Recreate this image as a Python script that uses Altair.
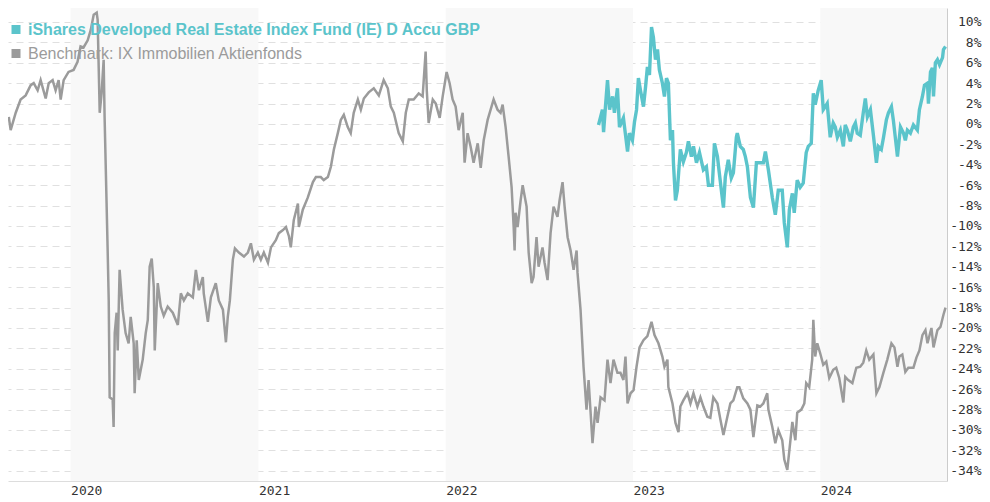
import altair as alt
import pandas as pd

FUND_NAME = "iShares Developed Real Estate Index Fund (IE) D Accu GBP"
BENCH_NAME = "Benchmark: IX Immobilien Aktienfonds"
FUND_COLOR = "#5bc4cb"
BENCH_COLOR = "#9b9b9b"

# decimal-year time stamps and cumulative performance (%)
bench_t = [
    2019.670, 2019.680, 2019.707, 2019.733, 2019.760, 2019.787, 2019.803, 2019.824, 2019.840, 2019.867,
    2019.883, 2019.904, 2019.920, 2019.936, 2019.947, 2019.963, 2019.989, 2020.016, 2020.037, 2020.053,
    2020.069, 2020.091, 2020.107, 2020.123, 2020.139, 2020.144, 2020.155, 2020.165, 2020.176, 2020.181,
    2020.197, 2020.203, 2020.208, 2020.224, 2020.229, 2020.235, 2020.245, 2020.251, 2020.261, 2020.277,
    2020.293, 2020.309, 2020.320, 2020.336, 2020.341, 2020.352, 2020.363, 2020.384, 2020.400, 2020.411,
    2020.421, 2020.432, 2020.443, 2020.448, 2020.464, 2020.480, 2020.496, 2020.517, 2020.544, 2020.571,
    2020.587, 2020.603, 2020.624, 2020.651, 2020.667, 2020.683, 2020.704, 2020.709, 2020.731, 2020.747,
    2020.773, 2020.789, 2020.811, 2020.827, 2020.837, 2020.848, 2020.864, 2020.875, 2020.896, 2020.923,
    2020.944, 2020.960, 2020.976, 2020.997, 2021.013, 2021.029, 2021.051, 2021.067, 2021.093, 2021.109,
    2021.131, 2021.147, 2021.163, 2021.173, 2021.189, 2021.211, 2021.216, 2021.237, 2021.264, 2021.291,
    2021.307, 2021.333, 2021.349, 2021.371, 2021.387, 2021.403, 2021.424, 2021.440, 2021.456, 2021.477,
    2021.493, 2021.509, 2021.531, 2021.547, 2021.563, 2021.589, 2021.616, 2021.643, 2021.669, 2021.691,
    2021.707, 2021.723, 2021.749, 2021.771, 2021.787, 2021.803, 2021.829, 2021.856, 2021.877, 2021.893,
    2021.899, 2021.909, 2021.931, 2021.947, 2021.968, 2021.984, 2022.005, 2022.021, 2022.037, 2022.053,
    2022.069, 2022.091, 2022.101, 2022.117, 2022.133, 2022.149, 2022.171, 2022.187, 2022.203, 2022.224,
    2022.240, 2022.256, 2022.277, 2022.293, 2022.304, 2022.320, 2022.336, 2022.352, 2022.363, 2022.368,
    2022.373, 2022.384, 2022.400, 2022.411, 2022.432, 2022.443, 2022.459, 2022.469, 2022.485, 2022.496,
    2022.517, 2022.528, 2022.544, 2022.560, 2022.576, 2022.597, 2022.608, 2022.624, 2022.635, 2022.651,
    2022.667, 2022.683, 2022.699, 2022.704, 2022.720, 2022.736, 2022.752, 2022.763, 2022.784, 2022.800,
    2022.811, 2022.827, 2022.848, 2022.864, 2022.880, 2022.896, 2022.917, 2022.933, 2022.949, 2022.960,
    2022.971, 2022.987, 2023.003, 2023.019, 2023.035, 2023.056, 2023.077, 2023.099, 2023.115, 2023.136,
    2023.157, 2023.168, 2023.184, 2023.189, 2023.211, 2023.227, 2023.243, 2023.253, 2023.269, 2023.291,
    2023.307, 2023.323, 2023.344, 2023.360, 2023.376, 2023.397, 2023.413, 2023.429, 2023.451, 2023.467,
    2023.483, 2023.504, 2023.520, 2023.536, 2023.557, 2023.568, 2023.589, 2023.611, 2023.627, 2023.643,
    2023.664, 2023.680, 2023.696, 2023.717, 2023.723, 2023.744, 2023.760, 2023.776, 2023.797, 2023.808,
    2023.824, 2023.835, 2023.851, 2023.867, 2023.877, 2023.899, 2023.915, 2023.925, 2023.941, 2023.957,
    2023.963, 2023.973, 2023.984, 2024.000, 2024.016, 2024.032, 2024.048, 2024.069, 2024.085, 2024.101,
    2024.123, 2024.133, 2024.149, 2024.171, 2024.192, 2024.213, 2024.229, 2024.245, 2024.261, 2024.283,
    2024.299, 2024.315, 2024.336, 2024.357, 2024.379, 2024.395, 2024.411, 2024.421, 2024.437, 2024.453,
    2024.469, 2024.496, 2024.512, 2024.528, 2024.544, 2024.560, 2024.571, 2024.592, 2024.603, 2024.624,
    2024.640, 2024.656, 2024.667,
]
bench_v = [
    0.7, -0.6, 1.1, 2.4, 2.8, 3.8, 4.0, 3.3, 4.3, 2.5,
    4.0, 4.3, 3.3, 4.3, 2.4, 4.3, 5.1, 5.3, 6.1, 7.6,
    7.5, 8.2, 9.2, 10.7, 10.9, 10.2, 1.1, 3.0, 6.3, 0.7,
    -12.1, -17.3, -26.8, -27.0, -29.7, -20.5, -18.5, -22.2, -14.3, -18.2,
    -20.5, -21.5, -18.9, -21.5, -26.4, -21.2, -25.1, -23.1, -20.5, -19.2,
    -14.0, -13.2, -16.0, -22.2, -15.6, -17.9, -18.8, -17.9, -18.5, -19.7,
    -16.6, -17.3, -16.6, -17.0, -14.3, -16.3, -15.0, -16.6, -19.4, -17.0,
    -15.6, -17.3, -18.2, -21.4, -18.9, -17.3, -13.3, -12.2, -12.6, -13.0,
    -12.6, -11.7, -13.3, -12.6, -13.3, -12.6, -13.6, -12.1, -11.4, -10.7,
    -10.4, -10.1, -11.0, -12.1, -9.4, -7.8, -10.1, -8.4, -7.2, -5.7,
    -5.2, -5.2, -5.5, -5.2, -4.2, -2.5, -0.9, 0.4, 0.9, -0.3,
    -0.9, 1.1, 2.4, 1.4, 2.5, 3.1, 3.5, 2.8, 4.3, 3.5,
    1.7, 1.1, -0.9, -1.7, 1.1, 2.4, 2.4, 3.0, 2.7, 7.1,
    3.3, 0.1, 2.4, 2.0, 0.6, 2.7, 5.1, 4.0, 2.4, 1.7,
    -0.6, 1.1, -3.8, -0.9, -2.2, -3.8, -1.9, -4.3, -1.6, 0.4,
    1.4, 2.4, 1.4, 1.1, 1.9, -0.3, -3.2, -6.2, -10.1, -12.4,
    -8.7, -10.1, -7.5, -6.0, -8.1, -12.6, -15.6, -15.0, -11.1, -14.0,
    -12.1, -13.6, -15.3, -10.7, -8.1, -9.1, -7.5, -5.7, -8.1, -11.1,
    -12.4, -14.3, -12.4, -14.6, -18.2, -23.8, -28.0, -25.1, -31.3, -27.7,
    -29.3, -26.8, -27.1, -23.1, -25.4, -23.1, -24.4, -24.4, -25.1, -22.8,
    -27.4, -26.4, -26.1, -23.8, -21.9, -21.2, -20.8, -19.4, -20.7, -21.5,
    -22.8, -23.8, -23.1, -25.8, -27.4, -29.3, -30.2, -27.7, -27.1, -26.4,
    -27.4, -26.4, -27.7, -26.8, -27.7, -28.7, -28.8, -26.8, -27.4, -29.0,
    -30.5, -28.7, -27.4, -27.1, -25.8, -25.8, -26.9, -27.4, -28.0, -30.7,
    -27.6, -27.7, -27.4, -26.4, -28.0, -29.7, -31.3, -30.0, -31.0, -32.9,
    -33.9, -32.0, -29.2, -31.0, -28.3, -28.0, -27.4, -25.4, -25.8, -23.1,
    -19.2, -22.8, -21.5, -22.5, -23.6, -23.3, -24.9, -24.1, -23.9, -24.9,
    -27.3, -24.8, -25.1, -25.4, -23.9, -23.8, -23.4, -22.2, -23.1, -22.6,
    -26.4, -25.8, -24.4, -23.1, -21.5, -21.9, -23.8, -22.8, -22.6, -24.3,
    -23.9, -23.9, -22.9, -22.2, -20.7, -20.2, -21.5, -20.0, -21.9, -20.2,
    -19.9, -18.7, -18.0,
]

fund_t = [
    2022.816, 2022.837, 2022.843, 2022.853, 2022.864, 2022.875, 2022.891, 2022.901, 2022.917, 2022.928,
    2022.949, 2022.971, 2022.981, 2022.997, 2023.008, 2023.019, 2023.029, 2023.040, 2023.056, 2023.067,
    2023.077, 2023.088, 2023.099, 2023.109, 2023.120, 2023.131, 2023.141, 2023.157, 2023.168, 2023.179,
    2023.189, 2023.200, 2023.211, 2023.216, 2023.227, 2023.237, 2023.253, 2023.269, 2023.285, 2023.296,
    2023.312, 2023.323, 2023.339, 2023.355, 2023.376, 2023.392, 2023.403, 2023.424, 2023.435, 2023.451,
    2023.461, 2023.483, 2023.493, 2023.509, 2023.525, 2023.536, 2023.552, 2023.557, 2023.573, 2023.589,
    2023.600, 2023.611, 2023.627, 2023.643, 2023.659, 2023.675, 2023.696, 2023.707, 2023.723, 2023.744,
    2023.760, 2023.776, 2023.797, 2023.808, 2023.824, 2023.835, 2023.851, 2023.861, 2023.877, 2023.893,
    2023.909, 2023.925, 2023.936, 2023.952, 2023.963, 2023.973, 2023.989, 2024.005, 2024.016, 2024.027,
    2024.037, 2024.053, 2024.069, 2024.080, 2024.091, 2024.107, 2024.123, 2024.133, 2024.144, 2024.160,
    2024.176, 2024.187, 2024.197, 2024.213, 2024.229, 2024.240, 2024.251, 2024.267, 2024.283, 2024.299,
    2024.309, 2024.325, 2024.336, 2024.352, 2024.363, 2024.379, 2024.389, 2024.405, 2024.411, 2024.427,
    2024.443, 2024.453, 2024.464, 2024.480, 2024.496, 2024.517, 2024.528, 2024.544, 2024.555, 2024.571,
    2024.576, 2024.587, 2024.597, 2024.603, 2024.613, 2024.624, 2024.635, 2024.651, 2024.656, 2024.667,
]
fund_v = [
    -0.1, 1.4, -0.8, 1.7, 4.3, 1.4, 2.7, 1.1, 3.5, -0.3,
    0.6, -2.7, -0.9, -1.6, 0.2, 1.4, 4.5, 3.3, 1.7, 3.6,
    5.6, 4.8, 9.5, 8.5, 6.3, 7.3, 5.3, 4.0, 2.7, 4.5,
    4.0, -1.6, -0.6, -3.8, -7.5, -6.5, -2.5, -3.7, -2.8, -1.7,
    -3.2, -2.2, -3.8, -2.8, -4.5, -4.2, -6.0, -6.0, -1.9, -3.2,
    -4.8, -8.2, -5.2, -3.5, -5.3, -4.8, -1.3, -0.9, -2.2, -2.5,
    -3.2, -4.2, -7.2, -8.2, -3.8, -3.8, -3.8, -2.7, -4.5, -7.2,
    -8.9, -6.5, -6.5, -9.7, -12.1, -8.4, -6.8, -8.7, -5.5, -6.2,
    -5.8, -2.8, -2.2, -1.9, 3.0, 1.9, 3.3, 4.3, 1.4, 1.7,
    2.0, -1.3, 0.1, -0.3, -1.3, -0.6, -2.2, -0.1, -0.6, -1.7,
    -0.3, 0.1, -0.9, -1.1, 1.1, 2.5, 0.7, 1.4, -1.1, -3.8,
    -2.2, -2.5, -1.4, 0.4, 1.1, 1.7, 0.4, -2.2, -3.2, -0.3,
    -0.9, -1.6, -0.6, -0.9, -0.1, -0.6, 1.4, 2.7, 3.8, 4.0,
    2.0, 5.1, 5.5, 2.7, 6.0, 6.3, 5.8, 6.5, 7.3, 7.6,
]

# alternating shaded years
band_start = ["2020-01-01", "2022-01-01", "2024-01-01"]
band_end = ["2021-01-01", "2023-01-01", "2024-09-04"]

y_ticks = list(range(-34, 13, 2))
year_ticks = [2020, 2021, 2022, 2023, 2024]


def to_date(t):
    y = int(t)
    start = pd.Timestamp(year=y, month=1, day=1)
    days = 366 if (y % 4 == 0) else 365
    return start + pd.Timedelta(days=(t - y) * days)


bench_df = pd.DataFrame({"date": [to_date(t) for t in bench_t], "value": bench_v})
fund_df = pd.DataFrame({"date": [to_date(t) for t in fund_t], "value": fund_v})
band_df = pd.DataFrame({"start": pd.to_datetime(band_start), "end": pd.to_datetime(band_end)})

W, H = 939, 473
x_scale = alt.Scale(domain=[alt.DateTime(year=2019, month=9, date=1),
                            alt.DateTime(year=2024, month=9, date=4)], nice=False)
y_scale = alt.Scale(domain=[-35, 11.37], nice=False, zero=False)

x_axis = alt.Axis(
    values=[alt.DateTime(year=yy, month=1, date=1) for yy in year_ticks],
    format="%Y", labelAlign="left", labelBaseline="top", labelPadding=3,
    ticks=False, grid=False, domain=True, domainColor="#dddddd",
    labelFont="DejaVu Sans Mono", labelFontSize=13, labelColor="#333333",
    labelFlush=False, title=None,
)
y_axis = alt.Axis(
    orient="right", values=y_ticks, labelExpr="datum.value + '%'",
    grid=True, gridDash=[7, 5], gridColor="#e0e0e0", gridWidth=1,
    ticks=False, domain=True, domainColor="#cccccc",
    labelAlign="right", labelPadding=34, labelFont="DejaVu Sans Mono",
    labelFontSize=13, labelColor="#333333", title=None,
)

bands = alt.Chart(band_df).mark_rect(color="#f8f8f8", clip=True).encode(
    x=alt.X("start:T", scale=x_scale, axis=x_axis),
    x2="end:T",
)

bench_line = alt.Chart(bench_df).mark_line(color=BENCH_COLOR, strokeWidth=2.5, clip=True).encode(
    x=alt.X("date:T", scale=x_scale, axis=x_axis),
    y=alt.Y("value:Q", scale=y_scale, axis=y_axis),
)
fund_line = alt.Chart(fund_df).mark_line(color=FUND_COLOR, strokeWidth=3.4, clip=True).encode(
    x=alt.X("date:T", scale=x_scale, axis=x_axis),
    y=alt.Y("value:Q", scale=y_scale, axis=y_axis),
)

legend_df = pd.DataFrame({"name": [FUND_NAME, BENCH_NAME]})
leg_fund_sq = alt.Chart(legend_df.iloc[[0]]).mark_square(color=FUND_COLOR, opacity=1, size=81).encode(
    x=alt.value(8), y=alt.value(21.5))
leg_fund_tx = alt.Chart(legend_df.iloc[[0]]).mark_text(
    color=FUND_COLOR, fontWeight="bold", font="Liberation Sans", fontSize=16,
    align="left", baseline="alphabetic").encode(
    x=alt.value(20), y=alt.value(27), text="name:N")
leg_bench_sq = alt.Chart(legend_df.iloc[[1]]).mark_square(color=BENCH_COLOR, opacity=1, size=81).encode(
    x=alt.value(8), y=alt.value(45.5))
leg_bench_tx = alt.Chart(legend_df.iloc[[1]]).mark_text(
    color=BENCH_COLOR, font="Liberation Sans", fontSize=16,
    align="left", baseline="alphabetic").encode(
    x=alt.value(20), y=alt.value(51), text="name:N")

chart = alt.layer(
    bands, bench_line, fund_line, leg_fund_sq, leg_fund_tx, leg_bench_sq, leg_bench_tx
).properties(
    width=W, height=H,
    autosize=alt.AutoSizeParams(type="none"),
    padding={"left": 0, "top": 0, "right": 35, "bottom": 21},
    background="white",
).configure_view(stroke=None)

chart.save("out.html", embed_options={"renderer": "svg", "actions": False})
